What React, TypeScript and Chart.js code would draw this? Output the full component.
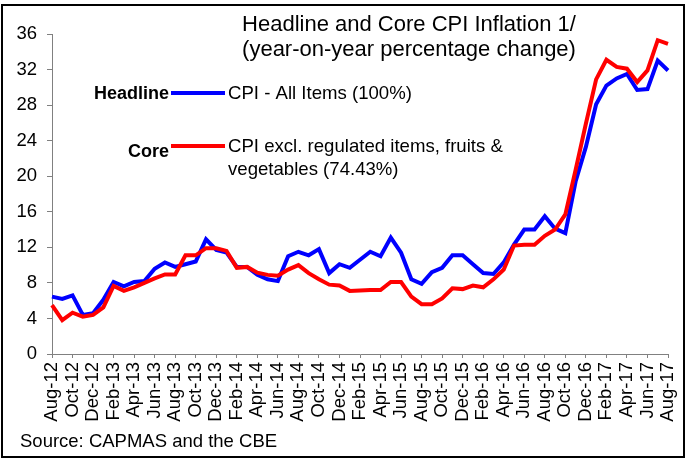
import React, { useEffect, useRef } from "react";
import { Chart, registerables } from "chart.js";

Chart.register(...registerables);

const months = [
  "Aug-12", "Sep-12", "Oct-12", "Nov-12", "Dec-12",
  "Jan-13", "Feb-13", "Mar-13", "Apr-13", "May-13", "Jun-13", "Jul-13", "Aug-13", "Sep-13", "Oct-13", "Nov-13", "Dec-13",
  "Jan-14", "Feb-14", "Mar-14", "Apr-14", "May-14", "Jun-14", "Jul-14", "Aug-14", "Sep-14", "Oct-14", "Nov-14", "Dec-14",
  "Jan-15", "Feb-15", "Mar-15", "Apr-15", "May-15", "Jun-15", "Jul-15", "Aug-15", "Sep-15", "Oct-15", "Nov-15", "Dec-15",
  "Jan-16", "Feb-16", "Mar-16", "Apr-16", "May-16", "Jun-16", "Jul-16", "Aug-16", "Sep-16", "Oct-16", "Nov-16", "Dec-16",
  "Jan-17", "Feb-17", "Mar-17", "Apr-17", "May-17", "Jun-17", "Jul-17", "Aug-17",
];

const headline = [
  6.45, 6.2, 6.6, 4.4, 4.6,
  6.1, 8.1, 7.6, 8.1, 8.2, 9.6, 10.3, 9.8, 10.1, 10.4, 12.9, 11.7,
  11.4, 9.8, 9.8, 8.9, 8.4, 8.2, 11.0, 11.5, 11.1, 11.8, 9.1, 10.1,
  9.7, 10.6, 11.5, 11.0, 13.1, 11.4, 8.4, 7.9, 9.2, 9.7, 11.1, 11.1,
  10.1, 9.1, 9.0, 10.3, 12.3, 14.0, 14.0, 15.5, 14.1, 13.6, 19.4, 23.3,
  28.1, 30.2, 31.0, 31.5, 29.7, 29.8, 33.0, 31.9,
];

const core = [
  5.5, 3.8, 4.65, 4.2, 4.4,
  5.25, 7.65, 7.1, 7.5, 8.0, 8.5, 8.95, 8.95, 11.1, 11.1, 11.9, 11.9,
  11.6, 9.7, 9.8, 9.15, 8.9, 8.8, 9.5, 10.0, 9.1, 8.4, 7.8, 7.7,
  7.1, 7.15, 7.2, 7.2, 8.1, 8.1, 6.45, 5.6, 5.6, 6.25, 7.4, 7.3,
  7.7, 7.5, 8.4, 9.5, 12.2, 12.3, 12.3, 13.3, 14.0, 15.7, 20.7, 25.9,
  30.9, 33.1, 32.3, 32.1, 30.6, 31.9, 35.3, 34.9,
];

const yMin = 0;
const yMax = 36;
const yStep = 4;

const titleLines = ["Headline and Core CPI Inflation 1/", "(year-on-year percentage change)"];
const headlineKey = "Headline";
const headlineDesc = ["CPI - All Items (100%)"];
const coreKey = "Core";
const coreDesc = ["CPI excl. regulated items, fruits &", "vegetables (74.43%)"];
const sourceText = "Source: CAPMAS and the CBE";

const BLUE = "#0000FF";
const RED = "#FF0000";
const FONT = 'Arial, "Liberation Sans", sans-serif';

const overlayPlugin = {
  id: "overlay",
  afterDraw(chart: any) {
    const ctx = chart.ctx as CanvasRenderingContext2D;
    ctx.save();
    // outer border
    ctx.strokeStyle = "#000";
    ctx.lineWidth = 2;
    ctx.strokeRect(2, 5, 682, 452);

    ctx.fillStyle = "#000";
    ctx.textBaseline = "alphabetic";

    // title
    ctx.font = `22px ${FONT}`;
    ctx.textAlign = "center";
    ctx.fillText(titleLines[0], 409, 31);
    ctx.fillText(titleLines[1], 409, 56);

    // legend keys
    ctx.font = `bold 18px ${FONT}`;
    ctx.textAlign = "right";
    ctx.fillText(headlineKey, 169, 99);
    ctx.fillText(coreKey, 169, 157);

    ctx.lineCap = "butt";
    ctx.lineWidth = 4;
    ctx.strokeStyle = BLUE;
    ctx.beginPath();
    ctx.moveTo(171, 93);
    ctx.lineTo(225, 93);
    ctx.stroke();
    ctx.strokeStyle = RED;
    ctx.beginPath();
    ctx.moveTo(171, 146);
    ctx.lineTo(225, 146);
    ctx.stroke();

    ctx.font = `18.6px ${FONT}`;
    ctx.textAlign = "left";
    ctx.fillText(headlineDesc[0], 228, 99);
    ctx.fillText(coreDesc[0], 228, 152);
    ctx.fillText(coreDesc[1], 228, 175);

    // source
    ctx.font = `18.5px ${FONT}`;
    ctx.fillText(sourceText, 20, 447);
    ctx.restore();
  },
};

export default function App() {
  const canvasRef = useRef<HTMLCanvasElement | null>(null);

  useEffect(() => {
    document.body.style.margin = "0";
    const canvas = canvasRef.current;
    if (!canvas) return;
    const chart = new Chart(canvas, {
      type: "line",
      data: {
        labels: months,
        datasets: [
          {
            label: "Headline",
            data: headline,
            borderColor: BLUE,
            backgroundColor: BLUE,
            borderWidth: 4,
            pointRadius: 0,
            tension: 0,
            order: 2,
          },
          {
            label: "Core",
            data: core,
            borderColor: RED,
            backgroundColor: RED,
            borderWidth: 4,
            pointRadius: 0,
            tension: 0,
            order: 1,
          },
        ],
      },
      options: {
        responsive: false,
        animation: false,
        layout: { padding: { left: 0, right: 19, top: 34, bottom: 0 } },
        plugins: {
          legend: { display: false },
          title: { display: false },
          tooltip: { enabled: false },
        },
        scales: {
          x: {
            offset: false,
            grid: {
              display: true,
              drawOnChartArea: false,
              drawTicks: true,
              tickLength: 4,
              color: "#808080",
            },
            border: { display: true, color: "#808080", width: 1 },
            ticks: {
              autoSkip: false,
              maxRotation: 90,
              minRotation: 90,
              padding: 4,
              color: "#000",
              font: { family: FONT, size: 18.5 },
              callback: (_v: any, i: number) => (i % 2 === 0 ? months[i] : null),
            },
            afterFit: (scale: any) => {
              scale.height = 105;
              scale.paddingRight = 0;
            },
          },
          y: {
            min: yMin,
            max: yMax,
            grid: {
              display: true,
              drawOnChartArea: false,
              drawTicks: true,
              tickLength: 5,
              color: "#808080",
            },
            border: { display: true, color: "#808080", width: 1 },
            ticks: {
              stepSize: yStep,
              padding: 10,
              color: "#000",
              font: { family: FONT, size: 18.5 },
            },
            afterFit: (scale: any) => {
              scale.width = 52;
            },
          },
        },
      },
      plugins: [overlayPlugin],
    });
    return () => chart.destroy();
  }, []);

  return (
    <div style={{ position: "absolute", left: 0, top: 0, width: 687, height: 459, background: "#fff" }}>
      <canvas ref={canvasRef} width={687} height={459} style={{ width: 687, height: 459, display: "block" }} />
    </div>
  );
}
